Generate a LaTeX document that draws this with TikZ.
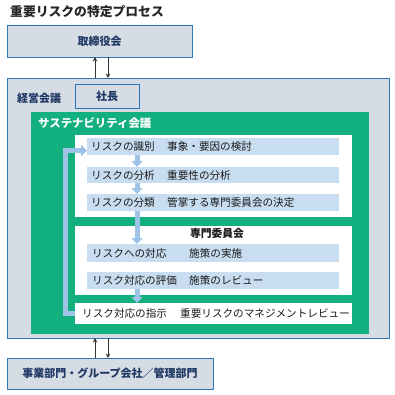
\documentclass[tikz,border=0pt]{standalone}
\usepackage{fontspec}
\setmainfont{Noto Sans CJK JP}
\usetikzlibrary{arrows.meta,calc}
\definecolor{boxfill}{HTML}{D6DCE4}
\definecolor{boxline}{HTML}{2E75B6}
\definecolor{navy}{HTML}{1F3864}
\definecolor{sgreen}{HTML}{12B07F}
\definecolor{barblue}{HTML}{C8DDF0}
\definecolor{arrblue}{HTML}{9DC3E6}
\definecolor{txt}{HTML}{1A1A1A}
\definecolor{titlec}{HTML}{262626}
\begin{document}
\begin{tikzpicture}[x=1pt,y=-1pt,
  graybox/.style={draw=boxline, line width=0.9pt, fill=boxfill, anchor=north west, inner sep=0, outer sep=0},
  heading/.style={font=\bfseries\fontsize{11}{13}\selectfont, text=navy},
  barbox/.style={fill=barblue, anchor=north west, inner sep=0, outer sep=0},
  whitebox/.style={fill=white, anchor=north west, inner sep=0, outer sep=0},
  rowtext/.style={anchor=west, inner sep=0, text=txt, font=\fontsize{10.6}{12}\selectfont},
  bluearrow/.style={draw=arrblue, line width=5pt, line join=miter, -{Triangle[width=11pt,length=6pt]}},
  thinarrow/.style={draw=black!80, line width=0.8pt, -{Stealth[width=4.5pt,length=4.5pt]}}]
\useasboundingbox (0,0) rectangle (395,395);

% title
\node[anchor=west, inner sep=0, text=titlec, font=\bfseries\fontsize{12.8}{14}\selectfont] (title) at (10,12) {重要リスクの特定プロセス};

% board
\node[graybox, minimum width=185pt, minimum height=32pt, heading] (board) at (7,25) {取締役会};

% management meeting
\node[graybox, minimum width=382pt, minimum height=260pt] (keiei) at (7,78) {};
\node[anchor=west, inner sep=0, heading] (keieilabel) at (17,98) {経営会議};
\node[graybox, minimum width=64pt, minimum height=24pt, heading] (shacho) at (75,84) {社長};

% sustainability meeting
\node[fill=sgreen, anchor=north west, inner sep=0, minimum width=338pt, minimum height=222pt] (green) at (31,112) {};
\node[anchor=west, inner sep=0, text=white, font=\bfseries\fontsize{11.4}{13}\selectfont] (greenlabel) at (38,123) {サステナビリティ会議};

% white boxes
\node[whitebox, minimum width=277pt, minimum height=82pt] (wbox1) at (75,135) {};
\node[whitebox, minimum width=277pt, minimum height=69pt] (wbox2) at (75,226) {};
\node[whitebox, minimum width=277pt, minimum height=21pt] (wbox3) at (75,303) {};
\node[inner sep=0, text=txt, font=\bfseries\fontsize{10.8}{12}\selectfont] (senmon) at (217,233) {専門委員会};

% bars
\node[barbox, minimum width=252pt, minimum height=17pt] (bar1) at (87,138) {};
\node[barbox, minimum width=252pt, minimum height=16pt] (bar2) at (87,167) {};
\node[barbox, minimum width=252pt, minimum height=17pt] (bar3) at (87,194) {};
\node[barbox, minimum width=252pt, minimum height=18pt] (bar4) at (87,244) {};
\node[barbox, minimum width=252pt, minimum height=17pt] (bar5) at (87,272) {};

% row texts
\node[rowtext] (r1a) at ($(bar1.west)+(4,0)$) {リスクの識別};
\node[rowtext] (r1b) at ($(bar1.west)+(80,0)$) {事象・要因の検討};
\node[rowtext] (r2a) at ($(bar2.west)+(4,0)$) {リスクの分析};
\node[rowtext] (r2b) at ($(bar2.west)+(80,0)$) {重要性の分析};
\node[rowtext] (r3a) at ($(bar3.west)+(4,0)$) {リスクの分類};
\node[rowtext] (r3b) at ($(bar3.west)+(80,0)$) {管掌する専門委員会の決定};
\node[rowtext] (r4a) at ($(bar4.west)+(5,0)$) {リスクへの対応};
\node[rowtext] (r4b) at ($(bar4.west)+(102,0)$) {施策の実施};
\node[rowtext] (r5a) at ($(bar5.west)+(5,0)$) {リスク対応の評価};
\node[rowtext] (r5b) at ($(bar5.west)+(102,0)$) {施策のレビュー};
\node[rowtext] (r6a) at ($(wbox3.west)+(7,0)$) {リスク対応の指示};
\node[rowtext] (r6b) at ($(wbox3.west)+(105,0)$) {重要リスクのマネジメントレビュー};

% departments
\node[graybox, minimum width=206pt, minimum height=31pt, heading] (dept) at (7,358) {事業部門・グループ会社／管理部門};

% blue flow arrows
\coordinate (a1) at ($(bar1.south west)+(50,0)$);
\coordinate (a2) at ($(bar2.south west)+(50,0)$);
\coordinate (a3) at ($(bar3.south west)+(50,0)$);
\coordinate (a5) at ($(bar5.south west)+(50,0)$);
\draw[bluearrow] (a1) -- (a1 |- bar2.north);
\draw[bluearrow] (a2) -- (a2 |- bar3.north);
\draw[bluearrow] (a3) -- (a3 |- bar4.north);
\draw[bluearrow] (a5) -- (a5 |- wbox3.north);

% feedback loop
\coordinate (loopend) at ($(bar1.west)+(0,4)$);
\draw[bluearrow] (wbox3.west) -- ++(-10,0) |- (loopend);

% thin arrows between levels
\coordinate (u1) at ($(board.south west)+(88,0)$);
\coordinate (d1) at ($(board.south west)+(101,0)$);
\draw[thinarrow] (u1 |- keiei.north) -- (u1);
\draw[thinarrow] (d1) -- (d1 |- keiei.north);
\coordinate (u2) at ($(dept.north west)+(88,0)$);
\coordinate (d2) at ($(dept.north west)+(101,0)$);
\draw[thinarrow] (u2) -- (u2 |- keiei.south);
\draw[thinarrow] (d2 |- keiei.south) -- (d2);
\end{tikzpicture}
\end{document}
